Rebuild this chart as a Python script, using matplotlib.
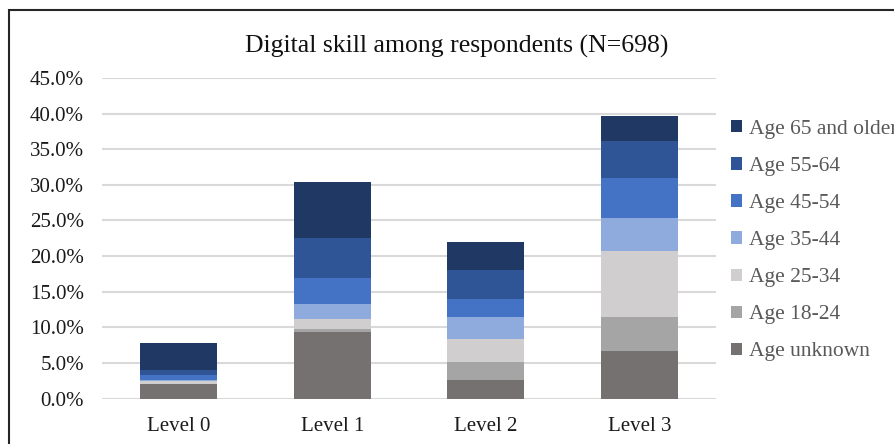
import matplotlib
matplotlib.use("Agg")
import matplotlib.pyplot as plt
from matplotlib.patches import Rectangle
import numpy as np

plt.rcParams['font.family'] = ['Liberation Serif', 'DejaVu Serif']

levels = ["Level 0", "Level 1", "Level 2", "Level 3"]

# percent of respondents, stacked bottom to top
age_unknown = [2.0, 9.4, 2.6, 6.6]
age_18_24 = [0.1, 0.4, 2.5, 4.9]
age_25_34 = [0.4, 1.3, 3.2, 9.2]
age_35_44 = [0.15, 2.2, 3.1, 4.7]
age_45_54 = [0.7, 3.6, 2.6, 5.6]
age_55_64 = [0.6, 5.6, 4.0, 5.2]
age_65_plus = [3.85, 7.9, 4.0, 3.5]

series = [
    ("Age unknown", age_unknown, "#767171"),
    ("Age 18-24", age_18_24, "#A5A5A5"),
    ("Age 25-34", age_25_34, "#D0CECE"),
    ("Age 35-44", age_35_44, "#8FAADC"),
    ("Age 45-54", age_45_54, "#4472C4"),
    ("Age 55-64", age_55_64, "#2F5597"),
    ("Age 65 and older", age_65_plus, "#203864"),
]

W, H = 894, 444
fig = plt.figure(figsize=(W / 100, H / 100), dpi=100)
ax = fig.add_axes([102 / W, 1 - 398.5 / H, (716 - 102) / W, (398.5 - 78) / H])

x = np.arange(len(levels))
bottom = np.zeros(len(levels))
handles = []
for name, vals, color in series:
    vals = np.array(vals) / 100
    b = ax.bar(x, vals, 0.5, bottom=bottom, color=color, label=name, zorder=3)
    handles.append(b)
    bottom += vals

ax.set_xlim(-0.5, 3.5)
ax.set_ylim(0, 0.45)
ax.set_yticks(np.arange(0, 0.451, 0.05))
ax.yaxis.set_major_formatter(matplotlib.ticker.FuncFormatter(lambda v, p: f"{v * 100:.1f}%"))
ax.set_xticks(x)
ax.set_xticklabels(levels)
ax.tick_params(length=0, labelsize=15, colors="#1a1a1a")
ax.tick_params(axis="y", pad=13)
ax.tick_params(axis="x", pad=13.5)
ax.grid(axis="y", color="#D9D9D9", linewidth=1.5, zorder=0)
ax.set_axisbelow(True)
for s in ax.spines.values():
    s.set_visible(False)

fig.text(457 / W, 1 - 46 / H, "Digital skill among respondents (N=698)",
         ha="center", va="center", fontsize=18.5, color="#111111")

# legend runs off the right edge, as in the original
leg = fig.legend(handles[::-1], [s[0] for s in series][::-1],
                 loc="upper left", bbox_to_anchor=(731 / W, 1 - 120 / H),
                 frameon=False, fontsize=15.5, handlelength=0.5, handleheight=0.5,
                 handletextpad=0.33, labelspacing=0.84, borderpad=0, borderaxespad=0)
for t in leg.get_texts():
    t.set_color("#595959")

fig.patches.append(Rectangle((8.5 / W, -0.1), 1.2, 1.1 - 10 / H, transform=fig.transFigure,
                             fill=False, edgecolor="#262626", linewidth=1.5))

fig.savefig("out.png", dpi=100)
